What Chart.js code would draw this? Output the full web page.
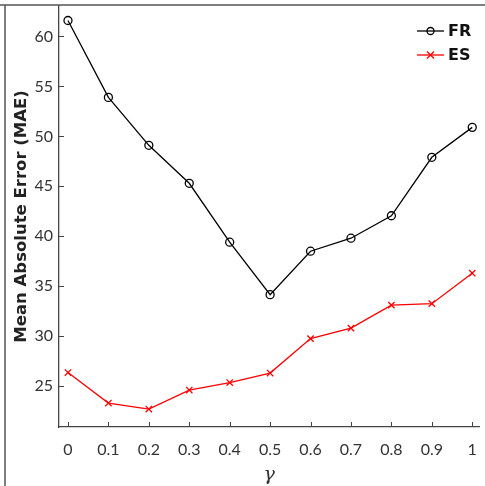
<!DOCTYPE html>
<html>
<head>
<meta charset="utf-8">
<script src="https://cdn.jsdelivr.net/npm/chart.js@4/dist/chart.umd.min.js"></script>
<style>
  html, body { margin:0; padding:0; background:#fff; }
  #wrap { width:485px; height:486px; position:relative; }
</style>
</head>
<body>
<div id="wrap"><canvas id="chart" width="485" height="486"></canvas></div>
<script>
// values
const gammas = [0, 0.1, 0.2, 0.3, 0.4, 0.5, 0.6, 0.7, 0.8, 0.9, 1];
const frMAE = [61.6, 53.9, 49.1, 45.3, 39.4, 34.15, 38.5, 39.8, 42.05, 47.9, 50.9];
const esMAE = [26.35, 23.3, 22.7, 24.6, 25.35, 26.3, 29.75, 30.8, 33.1, 33.25, 36.3];
const xTicks = [0, 0.1, 0.2, 0.3, 0.4, 0.5, 0.6, 0.7, 0.8, 0.9, 1];
const yTicks = [25, 30, 35, 40, 45, 50, 55, 60];
const seriesNames = ['FR', 'ES'];

const AXIS = '#444';
const TXT = '#333';
const FONT = 'Lato, "Open Sans", sans-serif';

const pts = (ys) => gammas.map((g, i) => ({ x: g, y: ys[i] }));

// inward ticks, outer figure border and in-plot legend
const decor = {
  id: 'decor',
  afterDraw(chart){
    const { ctx, chartArea: a, scales } = chart;
    ctx.save();
    ctx.strokeStyle = AXIS;
    ctx.lineWidth = 1;
    ctx.beginPath();
    xTicks.forEach(v => {
      const px = Math.round(scales.x.getPixelForValue(v)) + 0.5;
      ctx.moveTo(px, a.bottom); ctx.lineTo(px, a.bottom - 5);
    });
    yTicks.forEach(v => {
      const py = Math.round(scales.y.getPixelForValue(v)) + 0.5;
      ctx.moveTo(a.left, py); ctx.lineTo(a.left + 5, py);
    });
    ctx.stroke();

    // figure frame (top and left edges)
    ctx.strokeStyle = '#555';
    ctx.lineWidth = 1.5;
    ctx.beginPath();
    ctx.moveTo(0, 5); ctx.lineTo(485, 5);
    ctx.moveTo(5, 5); ctx.lineTo(5, 486);
    ctx.stroke();

    // legend
    const lx = 417, ly = [31, 55];
    chart.data.datasets.forEach((ds, i) => {
      const y = ly[i];
      ctx.strokeStyle = ds.borderColor;
      ctx.lineWidth = 1.3;
      ctx.beginPath(); ctx.moveTo(lx, y); ctx.lineTo(lx + 27, y); ctx.stroke();
      const cx = lx + 13.5;
      ctx.beginPath();
      if (ds.pointStyle === 'circle') {
        ctx.arc(cx, y, 3.5, 0, Math.PI * 2);
      } else {
        ctx.moveTo(cx - 3.5, y - 3.5); ctx.lineTo(cx + 3.5, y + 3.5);
        ctx.moveTo(cx + 3.5, y - 3.5); ctx.lineTo(cx - 3.5, y + 3.5);
      }
      ctx.stroke();
      ctx.fillStyle = '#111';
      ctx.font = 'bold 16px "DejaVu Sans", sans-serif';
      ctx.textBaseline = 'middle';
      ctx.textAlign = 'left';
      ctx.fillText(ds.label, lx + 31, y + 1);
    });
    ctx.restore();
  }
};

new Chart(document.getElementById('chart'), {
  type: 'scatter',
  data: {
    datasets: [
      { label: seriesNames[0], data: pts(frMAE), showLine: true,
        borderColor: '#000', backgroundColor: 'rgba(0,0,0,0)', borderWidth: 1.3,
        pointStyle: 'circle', pointRadius: 4, pointBorderWidth: 1.3 },
      { label: seriesNames[1], data: pts(esMAE), showLine: true,
        borderColor: '#ff0000', backgroundColor: 'rgba(0,0,0,0)', borderWidth: 1.3,
        pointStyle: 'crossRot', pointRadius: 4.5, pointBorderWidth: 1.3 }
    ]
  },
  options: {
    responsive: false,
    animation: false,
    layout: { padding: { left: 0, top: 5, right: 4, bottom: 0 } },
    plugins: { legend: { display: false }, tooltip: { enabled: false } },
    scales: {
      x: {
        type: 'linear', min: -0.0222, max: 1.0172,
        afterBuildTicks: (s) => { s.ticks = xTicks.map(v => ({ value: v })); },
        afterFit: (s) => { s.height = 59; s.paddingLeft = 0; s.paddingRight = 0; },
        grid: { display: false, drawTicks: false },
        border: { display: true, color: AXIS, width: 1.3 },
        ticks: { color: TXT, font: { family: FONT, size: 16 }, padding: 13,
                 maxRotation: 0, autoSkip: false, callback: (v) => String(v) },
        title: { display: true, text: 'γ', color: TXT,
                 font: { family: '"DejaVu Serif", serif', size: 19, style: 'italic' },
                 padding: { top: 7, bottom: 0 } }
      },
      y: {
        min: 20.9, max: 63.07,
        afterBuildTicks: (s) => { s.ticks = yTicks.map(v => ({ value: v })); },
        afterFit: (s) => { s.width = 59; s.paddingTop = 0; s.paddingBottom = 0; },
        grid: { display: false, drawTicks: false },
        border: { display: true, color: AXIS, width: 1.3 },
        ticks: { color: TXT, font: { family: FONT, size: 16 }, padding: 6 },
        title: { display: true, text: 'Mean Absolute Error (MAE)', color: '#222',
                 font: { family: '"DejaVu Sans", sans-serif', size: 16.5, weight: 'bold' },
                 padding: { top: 12, bottom: 0 } }
      }
    }
  },
  plugins: [decor]
});
</script>
</body>
</html>
